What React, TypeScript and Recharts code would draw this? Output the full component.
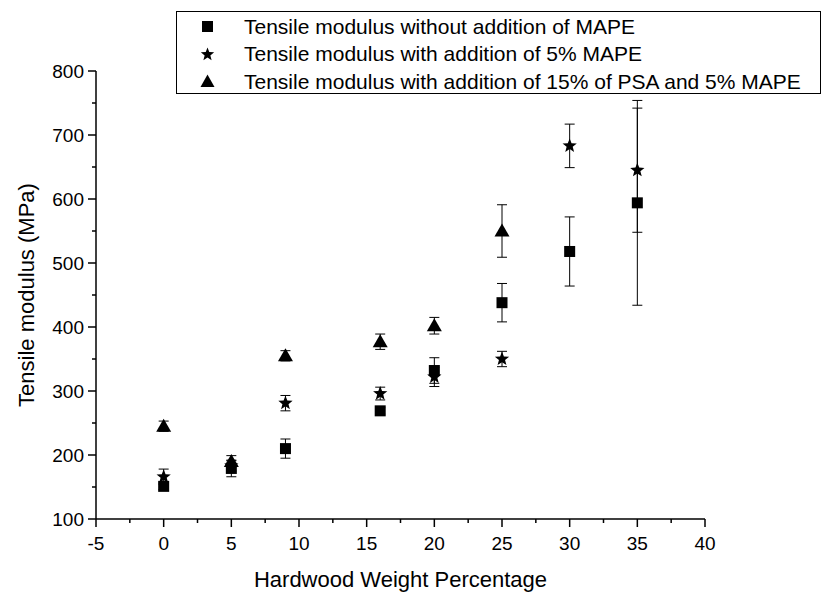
import React from 'react';
import { ScatterChart, Scatter, XAxis, YAxis, ErrorBar, Legend } from 'recharts';

const xValues = [0, 5, 9, 16, 20, 25, 30, 35];
const noMapeValues = [151, 179, 210, 269, 332, 438, 518, 594];
const noMapeErrors = [5, 13, 15, 5, 20, 30, 54, 160];
const mapeValues = [166, 183, 281, 296, 322, 350, 683, 645];
const mapeErrors = [12, 8, 12, 10, 15, 12, 34, 97];
const psaX = [0, 5, 9, 16, 20, 25];
const psaValues = [245, 190, 355, 377, 402, 550];
const psaErrors = [8, 9, 8, 12, 13, 41];

const xTicks = [-5, -2.5, 0, 2.5, 5, 7.5, 10, 12.5, 15, 17.5, 20, 22.5, 25, 27.5, 30, 32.5, 35, 37.5, 40];
const yTicks = [100, 150, 200, 250, 300, 350, 400, 450, 500, 550, 600, 650, 700, 750, 800];

const seriesNames = [
  'Tensile modulus without addition of MAPE',
  'Tensile modulus with addition of 5% MAPE',
  'Tensile modulus with addition of 15% of PSA and 5% MAPE',
];

const FONT = '"Liberation Sans", Arial, Helvetica, sans-serif';

const noMapeData = xValues.map((x, i) => ({ x, y: noMapeValues[i], err: noMapeErrors[i] }));
const mapeData = xValues.map((x, i) => ({ x, y: mapeValues[i], err: mapeErrors[i] }));
const psaData = psaX.map((x, i) => ({ x, y: psaValues[i], err: psaErrors[i] }));

const starPoints = (cx: number, cy: number, ro: number, ri: number) => {
  const pts: string[] = [];
  for (let k = 0; k < 10; k++) {
    const r = k % 2 === 0 ? ro : ri;
    const a = -Math.PI / 2 + (k * Math.PI) / 5;
    pts.push(`${cx + r * Math.cos(a)},${cy + r * Math.sin(a)}`);
  }
  return pts.join(' ');
};

const SquareShape = (p: any) => <rect x={p.cx - 5.5} y={p.cy - 5.5} width={11} height={11} fill="#000" />;
const StarShape = (p: any) => <polygon points={starPoints(p.cx, p.cy, 7.5, 3.2)} fill="#000" />;
const TriShape = (p: any) => (
  <polygon points={`${p.cx},${p.cy - 7.5} ${p.cx - 7.5},${p.cy + 5.5} ${p.cx + 7.5},${p.cy + 5.5}`} fill="#000" />
);

const XTick = (props: any) => {
  const { x, y, payload } = props;
  const v = payload.value;
  const major = v % 5 === 0;
  return (
    <g>
      <line x1={x} x2={x} y1={y} y2={y + (major ? 8 : 4)} stroke="#000" strokeWidth={1.5} />
      {major && (
        <text x={x} y={y + 31} textAnchor="middle" fontSize={19} fontFamily={FONT} fill="#000">
          {String(v)}
        </text>
      )}
    </g>
  );
};

const YTick = (props: any) => {
  const { x, y, payload } = props;
  const v = payload.value;
  const major = v % 100 === 0;
  return (
    <g>
      <line x1={x} x2={x - (major ? 8 : 4)} y1={y} y2={y} stroke="#000" strokeWidth={1.5} />
      {major && (
        <text x={x - 12} y={y + 7} textAnchor="end" fontSize={19} fontFamily={FONT} fill="#000">
          {String(v)}
        </text>
      )}
    </g>
  );
};

const legendMarker = (i: number) => {
  if (i === 0) return <rect x={3} y={3} width={11} height={11} fill="#000" />;
  if (i === 1) return <polygon points={starPoints(8.5, 8.5, 7, 3)} fill="#000" />;
  return <polygon points="8.5,1.5 1.5,14 15.5,14" fill="#000" />;
};

const renderLegend = () => (
  <div
    style={{
      border: '1px solid #000',
      background: '#fff',
      width: 645,
      height: 83,
      boxSizing: 'border-box',
      paddingTop: 1,
      fontFamily: FONT,
      fontSize: 21,
      color: '#000',
    }}
  >
    {seriesNames.map((name, i) => (
      <div key={name} style={{ height: 27.5, display: 'flex', alignItems: 'center', whiteSpace: 'nowrap' }}>
        <svg width={17} height={17} style={{ marginLeft: 22, marginRight: 28 }}>
          {legendMarker(i)}
        </svg>
        <span>{name}</span>
      </div>
    ))}
  </div>
);

export default function App() {
  return (
    <div style={{ position: 'absolute', left: 0, top: 0, width: 822, height: 593, background: '#fff' }}>
      <ScatterChart width={822} height={593} margin={{ top: 71, right: 117, bottom: 24, left: 36 }}>
        <XAxis
          type="number"
          dataKey="x"
          domain={[-5, 40]}
          ticks={xTicks}
          interval={0}
          tickSize={0}
          tickMargin={0}
          height={50}
          axisLine={{ stroke: '#000', strokeWidth: 1.5 }}
          tickLine={false}
          tick={<XTick />}
          allowDataOverflow
          label={(props: any) => {
            const vb = props.viewBox;
            return (
              <text x={vb.x + vb.width / 2} y={vb.y + 68} textAnchor="middle" fontSize={22} fontFamily={FONT} fill="#000">
                Hardwood Weight Percentage
              </text>
            );
          }}
        />
        <YAxis
          type="number"
          dataKey="y"
          domain={[100, 800]}
          ticks={yTicks}
          interval={0}
          tickSize={0}
          tickMargin={0}
          width={60}
          axisLine={{ stroke: '#000', strokeWidth: 1.5 }}
          tickLine={false}
          tick={<YTick />}
          allowDataOverflow
          label={(props: any) => {
            const vb = props.viewBox;
            const cx = vb.x + vb.width - 70;
            const cy = vb.y + vb.height / 2;
            return (
              <text
                x={cx}
                y={cy}
                transform={`rotate(-90, ${cx}, ${cy})`}
                textAnchor="middle"
                dominantBaseline="central"
                fontSize={22}
                fontFamily={FONT}
                fill="#000"
              >
                Tensile modulus (MPa)
              </text>
            );
          }}
        />
        <Legend
          content={renderLegend}
          layout="horizontal"
          verticalAlign="middle"
          align="center"
          wrapperStyle={{ position: 'absolute', top: 11, left: 176, width: 645, height: 83 }}
        />
        <Scatter name={seriesNames[0]} data={noMapeData} shape={SquareShape} isAnimationActive={false}>
          <ErrorBar dataKey="err" direction="y" width={5} stroke="#000" strokeWidth={1} />
        </Scatter>
        <Scatter name={seriesNames[1]} data={mapeData} shape={StarShape} isAnimationActive={false}>
          <ErrorBar dataKey="err" direction="y" width={5} stroke="#000" strokeWidth={1} />
        </Scatter>
        <Scatter name={seriesNames[2]} data={psaData} shape={TriShape} isAnimationActive={false}>
          <ErrorBar dataKey="err" direction="y" width={5} stroke="#000" strokeWidth={1} />
        </Scatter>
      </ScatterChart>
    </div>
  );
}
